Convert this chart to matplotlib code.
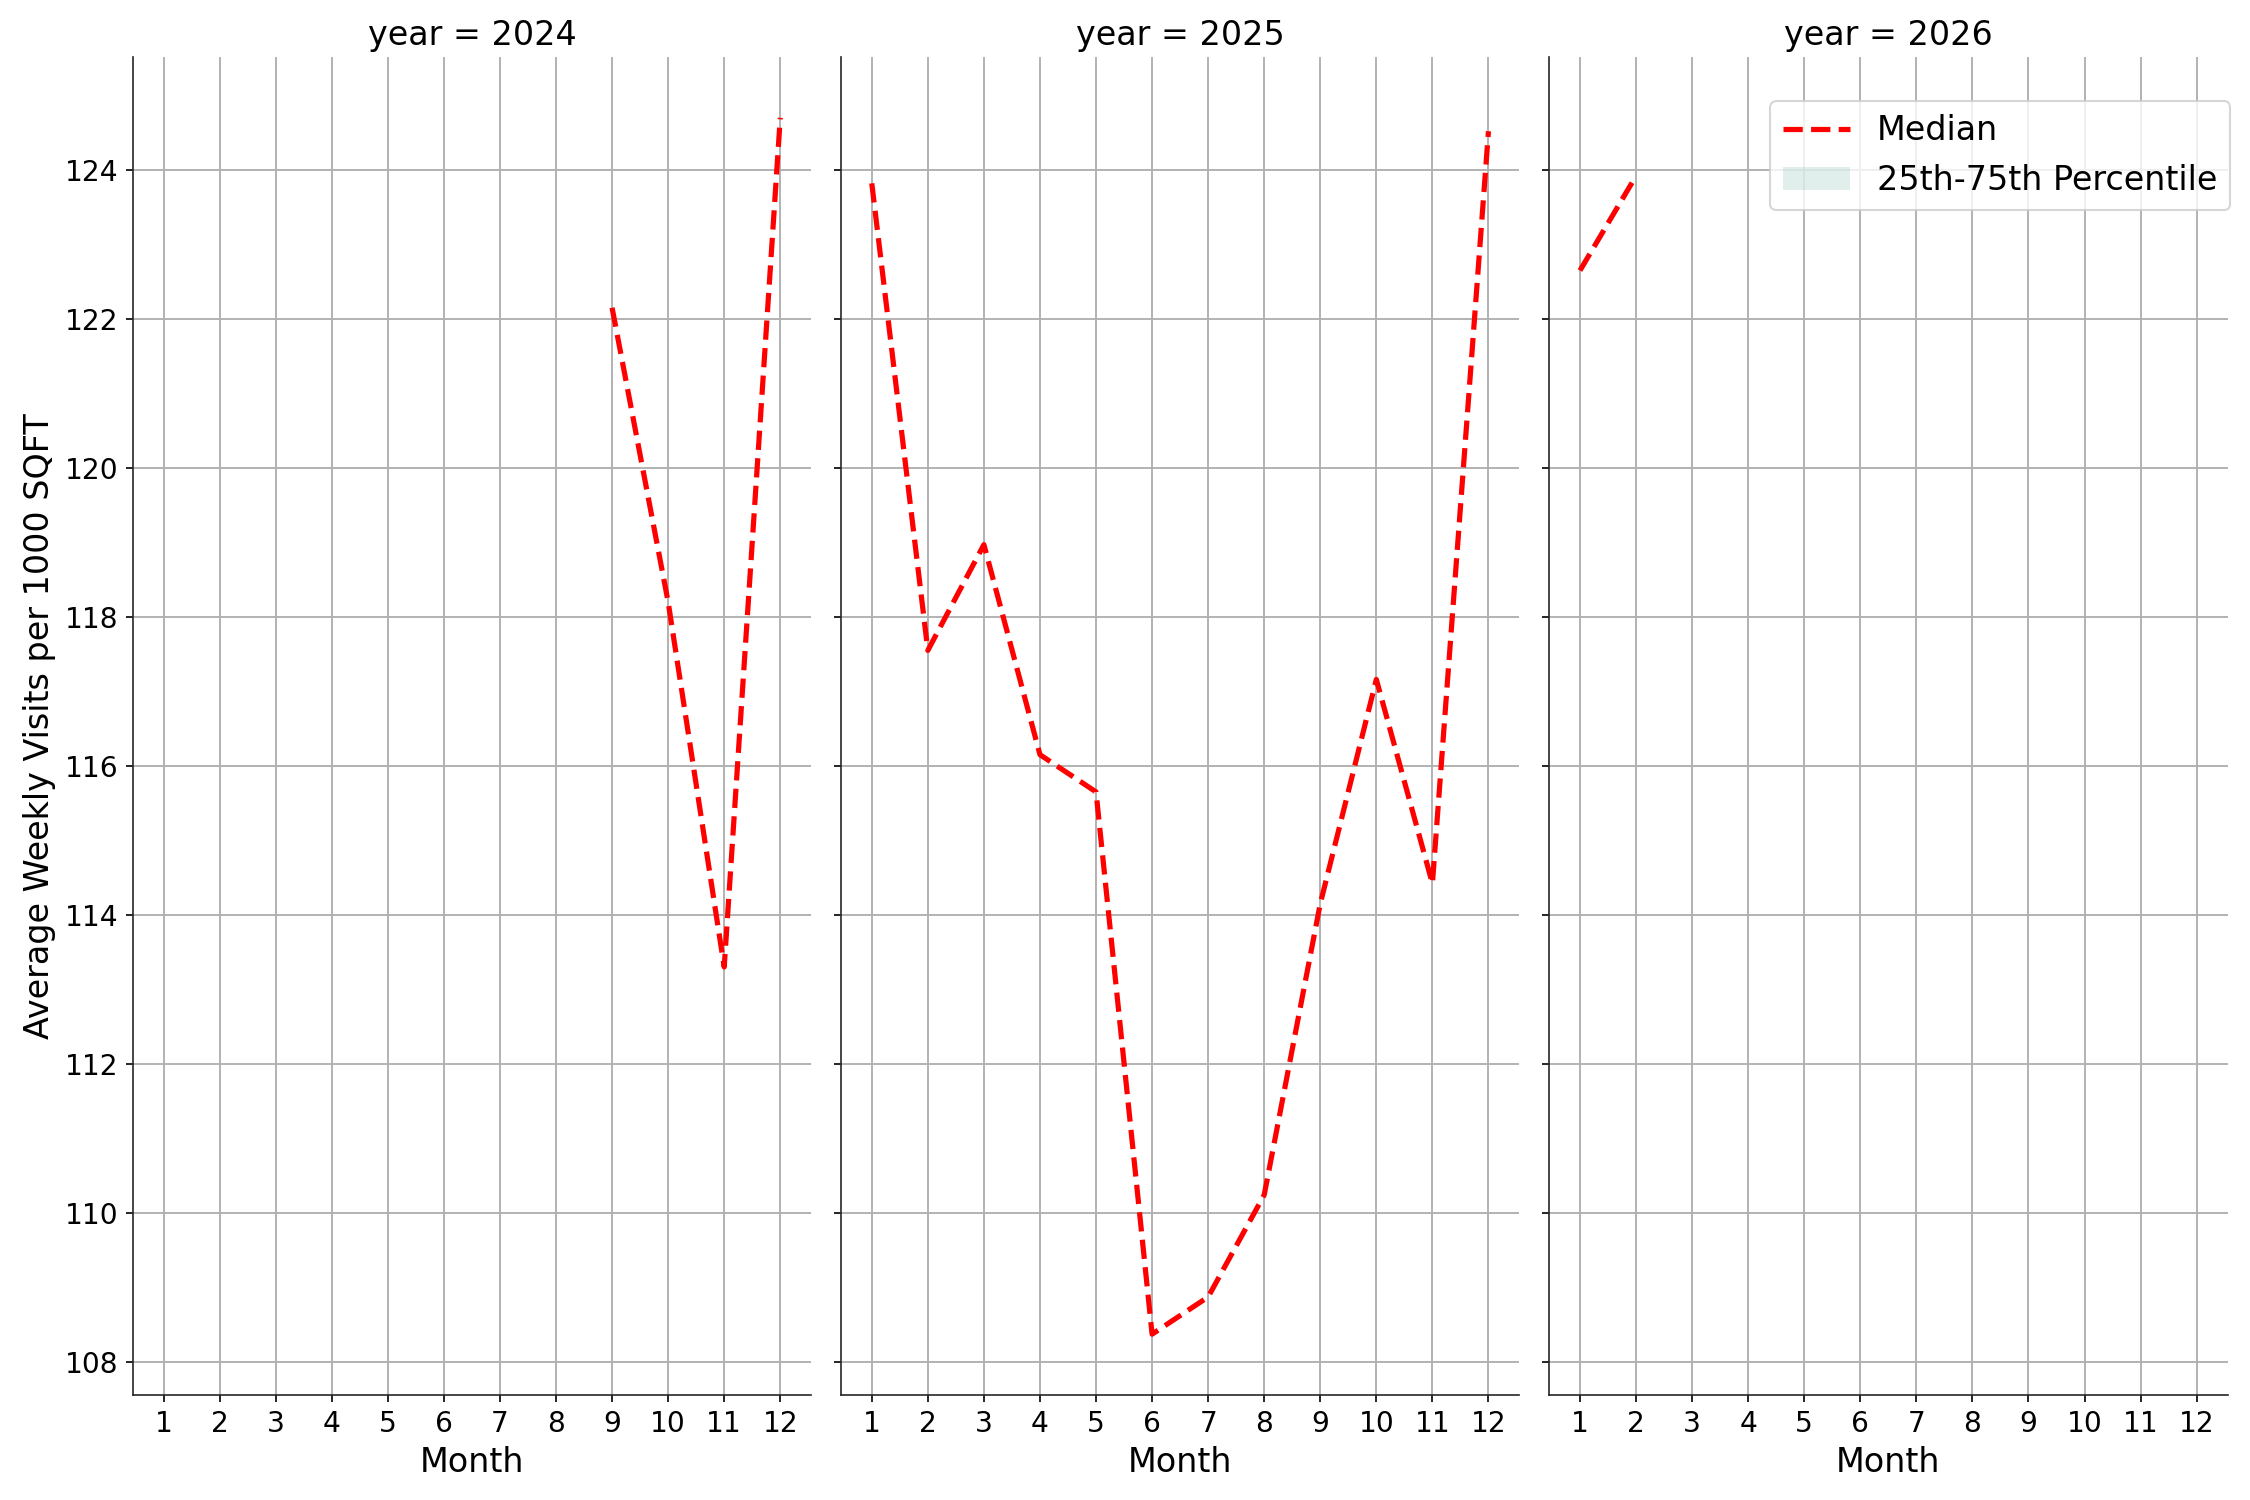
import numpy as np
import matplotlib
matplotlib.use('Agg')
import matplotlib.pyplot as plt

# monthly medians per year (nan = no data)
months = [1, 2, 3, 4, 5, 6, 7, 8, 9, 10, 11, 12]
years = [2024, 2025, 2026]
nan = np.nan
median_2024 = [nan, nan, nan, nan, nan, nan, nan, nan, 122.15, 118.2, 113.3, 124.7]
median_2025 = [123.82, 117.55, 118.97, 116.15, 115.65, 108.37, 108.87, 110.24, 114.15, 117.16, 114.42, 124.52]
median_2026 = [122.65, 123.92, nan, nan, nan, nan, nan, nan, nan, nan, nan, nan]
# band collapses onto the median (no spread visible)
q25_2024, q75_2024 = median_2024, median_2024
q25_2025, q75_2025 = median_2025, median_2025
q25_2026, q75_2026 = median_2026, median_2026

medians = [median_2024, median_2025, median_2026]
q25s = [q25_2024, q25_2025, q25_2026]
q75s = [q75_2024, q75_2025, q75_2026]

fig, axes = plt.subplots(1, 3, figsize=(15, 10), sharex=True, sharey=True)
plt.subplots_adjust(left=0.059, right=0.99, bottom=0.07, top=0.962, wspace=0.044)

for ax, yr, med, lo, hi in zip(axes, years, medians, q25s, q75s):
    ax.fill_between(months, lo, hi, color='#69b3a2', alpha=0.2, lw=0,
                    label='25th-75th Percentile')
    ax.plot(months, med, color='red', ls='--', lw=2.5, label='Median')
    ax.set_title('year = %d' % yr, fontsize=16)
    ax.set_xlabel('Month', fontsize=16)
    ax.set_xticks(months)
    ax.grid(True, color='#b0b0b0', lw=0.9)
    ax.set_axisbelow(True)
    ax.tick_params(labelsize=13.5)
    for s in ['top', 'right']:
        ax.spines[s].set_visible(False)
    ax.spines['left'].set_color('#262626')
    ax.spines['bottom'].set_color('#262626')

axes[0].set_ylabel('Average Weekly Visits per 1000 SQFT', fontsize=16)

h, l = axes[2].get_legend_handles_labels()
axes[2].legend(h[::-1], l[::-1], loc='upper right', bbox_to_anchor=(1.004, 0.967),
               borderaxespad=0, fontsize=16)

plt.savefig('out.png', dpi=150)
